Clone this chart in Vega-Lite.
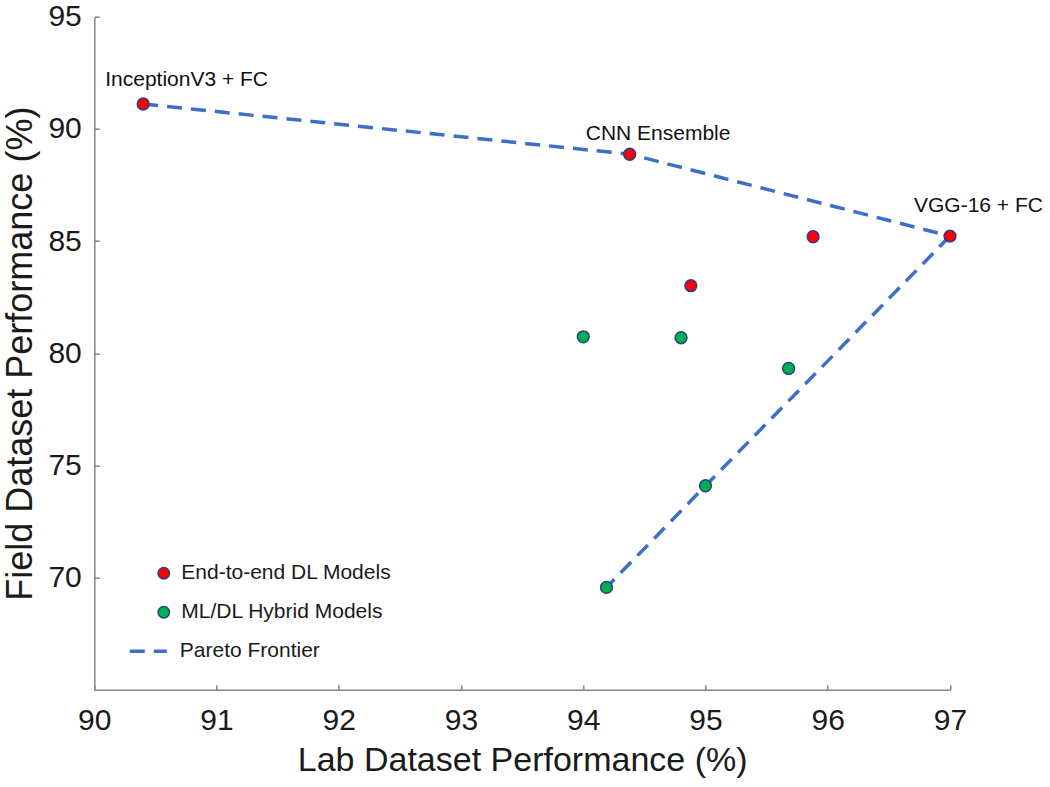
{
  "$schema": "https://vega.github.io/schema/vega-lite/v6.json",
  "width": 855.7,
  "height": 673,
  "autosize": {"type": "none"},
  "padding": {"left": 94.3, "top": 16.7, "right": 100, "bottom": 97.3},
  "background": "white",
  "config": {
    "font": "Liberation Sans",
    "view": {"stroke": null},
    "axis": {
      "grid": false,
      "domainColor": "#858585",
      "domainWidth": 1.5,
      "tickColor": "#858585",
      "tickWidth": 1.5,
      "tickSize": -5,
      "labelFontSize": 30,
      "labelColor": "#1a1a1a",
      "titleFontSize": 34,
      "titleFontWeight": "normal",
      "titleColor": "#1a1a1a",
      "labelFlush": false,
      "labelOverlap": false
    }
  },
  "datasets": {
    "models": [
      {"label": "InceptionV3 + FC", "group": "End-to-end DL Models", "lab": 90.40, "field": 91.11},
      {"label": "CNN Ensemble", "group": "End-to-end DL Models", "lab": 94.38, "field": 88.87},
      {"label": "VGG-16 + FC", "group": "End-to-end DL Models", "lab": 97.00, "field": 85.22},
      {"label": "", "group": "End-to-end DL Models", "lab": 95.88, "field": 85.19},
      {"label": "", "group": "End-to-end DL Models", "lab": 94.88, "field": 83.01},
      {"label": "", "group": "ML/DL Hybrid Models", "lab": 94.00, "field": 80.73},
      {"label": "", "group": "ML/DL Hybrid Models", "lab": 94.80, "field": 80.69},
      {"label": "", "group": "ML/DL Hybrid Models", "lab": 95.68, "field": 79.32},
      {"label": "", "group": "ML/DL Hybrid Models", "lab": 95.00, "field": 74.09},
      {"label": "", "group": "ML/DL Hybrid Models", "lab": 94.19, "field": 69.56}
    ],
    "frontier": [
      {"series": "Pareto Frontier", "segment": "upper", "order": 1, "lab": 90.40, "field": 91.11},
      {"series": "Pareto Frontier", "segment": "upper", "order": 2, "lab": 94.38, "field": 88.87},
      {"series": "Pareto Frontier", "segment": "upper", "order": 3, "lab": 97.00, "field": 85.22},
      {"series": "Pareto Frontier", "segment": "lower", "order": 1, "lab": 97.00, "field": 85.22},
      {"series": "Pareto Frontier", "segment": "lower", "order": 2, "lab": 95.00, "field": 74.09},
      {"series": "Pareto Frontier", "segment": "lower", "order": 3, "lab": 94.19, "field": 69.56}
    ]
  },
  "encoding": {
    "x": {
      "field": "lab",
      "type": "quantitative",
      "scale": {"domain": [90, 97], "zero": false, "nice": false},
      "axis": {
        "title": "Lab Dataset Performance (%)",
        "values": [90, 91, 92, 93, 94, 95, 96, 97],
        "labelPadding": 21,
        "titlePadding": 8
      }
    },
    "y": {
      "field": "field",
      "type": "quantitative",
      "scale": {"domain": [65, 95], "zero": false, "nice": false},
      "axis": {
        "title": "Field Dataset Performance (%)",
        "titleFontSize": 36,
        "values": [70, 75, 80, 85, 90, 95],
        "labelPadding": 18,
        "titlePadding": 8
      }
    }
  },
  "layer": [
    {
      "data": {"name": "frontier"},
      "mark": {"type": "line", "color": "#3c6fc8", "strokeWidth": 3.5},
      "encoding": {
        "detail": {"field": "segment", "type": "nominal"},
        "order": {"field": "order", "type": "quantitative"},
        "strokeDash": {
          "field": "series",
          "type": "nominal",
          "scale": {"domain": ["Pareto Frontier"], "range": [[15, 9]]},
          "legend": {
            "title": null,
            "orient": "none",
            "legendX": 33.5,
            "legendY": 614,
            "padding": 0,
            "symbolType": "stroke",
            "symbolSize": 1369,
            "symbolStrokeWidth": 3.5,
            "symbolStrokeColor": "#3c6fc8",
            "labelFontSize": 21,
            "labelColor": "#1a1a1a",
            "labelLimit": 0,
            "labelOffset": 11
          }
        }
      }
    },
    {
      "data": {"name": "models"},
      "mark": {"type": "point", "shape": "circle", "filled": true, "size": 140, "stroke": "#24428a", "strokeWidth": 1.5, "opacity": 1},
      "encoding": {
        "color": {
          "field": "group",
          "type": "nominal",
          "scale": {
            "domain": ["End-to-end DL Models", "ML/DL Hybrid Models"],
            "range": ["#ff0000", "#00b050"]
          },
          "legend": {
            "title": null,
            "orient": "none",
            "legendX": 59,
            "legendY": 546,
            "padding": 0,
            "symbolType": "circle",
            "symbolSize": 130,
            "labelFontSize": 21,
            "labelColor": "#1a1a1a",
            "labelLimit": 0,
            "labelOffset": 7,
            "rowPadding": 17,
            "symbolOpacity": 1
          }
        }
      }
    },
    {
      "data": {"name": "models"},
      "transform": [{"filter": "datum.label === 'InceptionV3 + FC'"}],
      "mark": {"type": "text", "align": "left", "baseline": "alphabetic", "dx": -38, "dy": -18, "fontSize": 21, "color": "#111111"},
      "encoding": {"text": {"field": "label"}}
    },
    {
      "data": {"name": "models"},
      "transform": [{"filter": "datum.label === 'CNN Ensemble'"}],
      "mark": {"type": "text", "align": "left", "baseline": "alphabetic", "dx": -44, "dy": -14, "fontSize": 21, "color": "#111111"},
      "encoding": {"text": {"field": "label"}}
    },
    {
      "data": {"name": "models"},
      "transform": [{"filter": "datum.label === 'VGG-16 + FC'"}],
      "mark": {"type": "text", "align": "left", "baseline": "alphabetic", "dx": -36, "dy": -24, "fontSize": 21, "color": "#111111"},
      "encoding": {"text": {"field": "label"}}
    }
  ]
}
